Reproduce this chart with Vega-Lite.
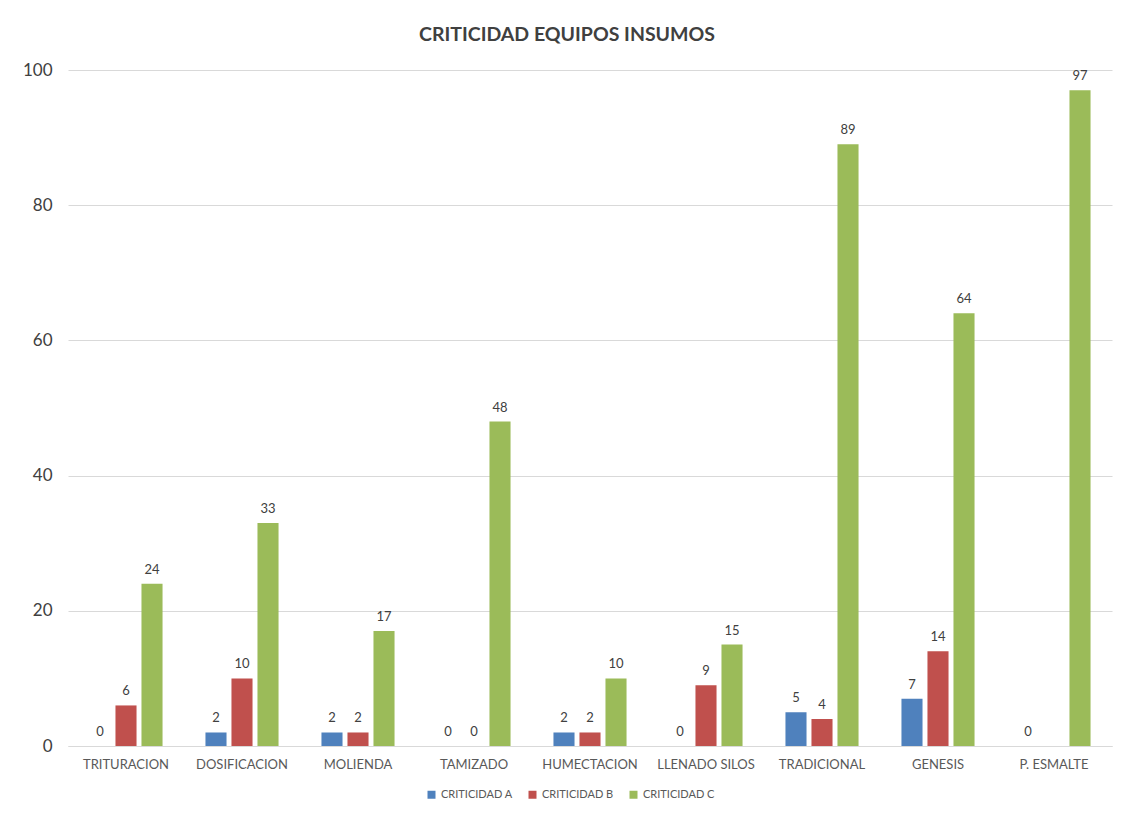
{
  "$schema": "https://vega.github.io/schema/vega-lite/v6.json",
  "width": 1044,
  "height": 676,
  "autosize": "none",
  "padding": {"left": 68, "top": 70, "right": 17, "bottom": 72},
  "background": "white",
  "config": {
    "font": "Lato",
    "view": {"stroke": null}
  },
  "title": {
    "text": "CRITICIDAD EQUIPOS INSUMOS",
    "fontSize": 19.5,
    "fontWeight": "bold",
    "color": "#404040",
    "font": "Lato",
    "anchor": "middle",
    "dx": -23,
    "offset": 16
  },
  "data": {
    "values": [
      {"proceso": "TRITURACION", "serie": "CRITICIDAD A", "valor": 0},
      {"proceso": "TRITURACION", "serie": "CRITICIDAD B", "valor": 6},
      {"proceso": "TRITURACION", "serie": "CRITICIDAD C", "valor": 24},
      {"proceso": "DOSIFICACION", "serie": "CRITICIDAD A", "valor": 2},
      {"proceso": "DOSIFICACION", "serie": "CRITICIDAD B", "valor": 10},
      {"proceso": "DOSIFICACION", "serie": "CRITICIDAD C", "valor": 33},
      {"proceso": "MOLIENDA", "serie": "CRITICIDAD A", "valor": 2},
      {"proceso": "MOLIENDA", "serie": "CRITICIDAD B", "valor": 2},
      {"proceso": "MOLIENDA", "serie": "CRITICIDAD C", "valor": 17},
      {"proceso": "TAMIZADO", "serie": "CRITICIDAD A", "valor": 0},
      {"proceso": "TAMIZADO", "serie": "CRITICIDAD B", "valor": 0},
      {"proceso": "TAMIZADO", "serie": "CRITICIDAD C", "valor": 48},
      {"proceso": "HUMECTACION", "serie": "CRITICIDAD A", "valor": 2},
      {"proceso": "HUMECTACION", "serie": "CRITICIDAD B", "valor": 2},
      {"proceso": "HUMECTACION", "serie": "CRITICIDAD C", "valor": 10},
      {"proceso": "LLENADO SILOS", "serie": "CRITICIDAD A", "valor": 0},
      {"proceso": "LLENADO SILOS", "serie": "CRITICIDAD B", "valor": 9},
      {"proceso": "LLENADO SILOS", "serie": "CRITICIDAD C", "valor": 15},
      {"proceso": "TRADICIONAL", "serie": "CRITICIDAD A", "valor": 5},
      {"proceso": "TRADICIONAL", "serie": "CRITICIDAD B", "valor": 4},
      {"proceso": "TRADICIONAL", "serie": "CRITICIDAD C", "valor": 89},
      {"proceso": "GENESIS", "serie": "CRITICIDAD A", "valor": 7},
      {"proceso": "GENESIS", "serie": "CRITICIDAD B", "valor": 14},
      {"proceso": "GENESIS", "serie": "CRITICIDAD C", "valor": 64},
      {"proceso": "P. ESMALTE", "serie": "CRITICIDAD A", "valor": 0},
      {"proceso": "P. ESMALTE", "serie": "CRITICIDAD C", "valor": 97}
    ]
  },
  "encoding": {
    "x": {
      "field": "proceso",
      "type": "nominal",
      "sort": null,
      "title": null,
      "scale": {"paddingInner": 0.37, "paddingOuter": 0.185},
      "axis": {
        "labelAngle": 0,
        "labelFontSize": 13,
        "labelColor": "#595959",
        "labelPadding": 12,
        "ticks": false,
        "domainColor": "#d9d9d9",
        "grid": false
      }
    },
    "xOffset": {
      "field": "serie",
      "type": "nominal",
      "scale": {"domain": ["CRITICIDAD A", "CRITICIDAD B", "CRITICIDAD C"], "paddingInner": 0.19, "paddingOuter": 0}
    },
    "y": {
      "field": "valor",
      "type": "quantitative",
      "title": null,
      "scale": {"domain": [0, 100], "nice": false},
      "axis": {
        "values": [0, 20, 40, 60, 80, 100],
        "labelFontSize": 17,
        "labelColor": "#404040",
        "labelPadding": 16,
        "ticks": false,
        "domain": false,
        "gridColor": "#d9d9d9"
      }
    }
  },
  "layer": [
    {
      "mark": {"type": "bar"},
      "encoding": {
        "color": {
          "field": "serie",
          "type": "nominal",
          "title": null,
          "scale": {
            "domain": ["CRITICIDAD A", "CRITICIDAD B", "CRITICIDAD C"],
            "range": ["#4f81bd", "#c0504d", "#9bbb59"]
          },
          "legend": {
            "orient": "none",
            "legendX": 358,
            "legendY": 719,
            "direction": "horizontal",
            "symbolType": "square",
            "symbolSize": 64,
            "symbolStrokeWidth": 0,
            "labelFontSize": 11,
            "labelColor": "#595959",
            "columnPadding": 14
          }
        }
      }
    },
    {
      "mark": {"type": "text", "baseline": "bottom", "dy": -7, "fontSize": 13, "color": "#404040"},
      "encoding": {
        "text": {"field": "valor", "type": "quantitative"}
      }
    }
  ]
}
